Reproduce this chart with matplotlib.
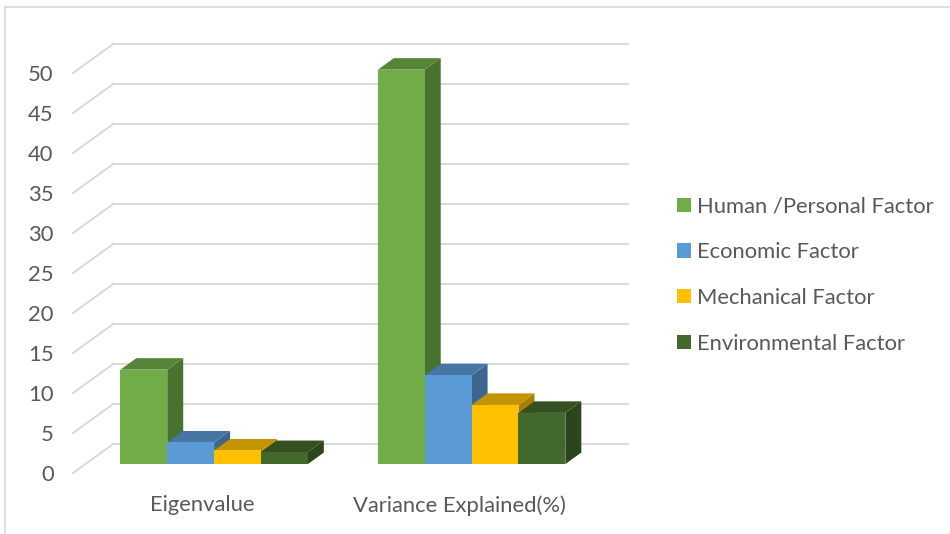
import numpy as np
import matplotlib
matplotlib.use("Agg")
import matplotlib.pyplot as plt
from matplotlib.patches import Polygon, Patch
from matplotlib.lines import Line2D

plt.rcParams.update({"font.family": ["Lato", "DejaVu Sans"]})

# ---- data ----
categories = ["Eigenvalue", "Variance Explained(%)"]
series = ["Human /Personal Factor", "Economic Factor", "Mechanical Factor", "Environmental Factor"]
human = [11.8, 49.3]
economic = [2.7, 11.1]
mechanical = [1.7, 7.4]
environmental = [1.5, 6.4]
yticks = list(range(0, 55, 5))

values = [human, economic, mechanical, environmental]
colors = ["#70AD47", "#5B9BD5", "#FFC000", "#43682B"]

TXT = "#595959"
GRID = "#D9D9D9"
FS = 15.8

# oblique "3D" look: depth offset in data units
DX, DY = 0.155, 3.6          # full floor depth
F0, F1 = 0.31, 0.71          # bar front / back planes (fraction of depth)
W = 0.182                    # bar width


def shade(c, k):
    r, g, b = matplotlib.colors.to_rgb(c)
    return (r * k, g * k, b * k)


fig = plt.figure(figsize=(9.5, 5.34), dpi=100)
ax = fig.add_axes([73 / 950, 61 / 534, 515 / 950, 400 / 534])
ax.set_xlim(-0.5, len(categories) - 0.5)
ax.set_ylim(0, 50)
for s in ax.spines.values():
    s.set_visible(False)

ax.set_yticks(yticks)
ax.tick_params(axis="y", length=0, pad=14, labelsize=FS, labelcolor=TXT)
ax.set_xticks(range(len(categories)))
ax.set_xticklabels(categories)
ax.tick_params(axis="x", length=0, pad=16, labelsize=FS, labelcolor=TXT)

# gridlines: back wall + left wall diagonals
x0, x1 = -0.5, len(categories) - 0.5
for v in yticks:
    ax.plot([x0 + DX, x1 + DX], [v + DY, v + DY], color=GRID, lw=1.4, clip_on=False, zorder=1)
    ax.plot([x0, x0 + DX], [v, v + DY], color=GRID, lw=1.4, clip_on=False, zorder=1)

# bars, left to right so nearer bars cover the side faces
z = 2
for ci in range(len(categories)):
    left = ci - 2 * W
    for si, vals in enumerate(values):
        h = vals[ci]
        c = colors[si]
        xl = left + si * W + F0 * DX
        xr = xl + W
        yb = F0 * DY
        ddx, ddy = (F1 - F0) * DX, (F1 - F0) * DY
        front = Polygon([(xl, yb), (xr, yb), (xr, yb + h), (xl, yb + h)],
                        closed=True, fc=c, ec="none", zorder=z, clip_on=False)
        side = Polygon([(xr, yb), (xr + ddx, yb + ddy), (xr + ddx, yb + h + ddy), (xr, yb + h)],
                       closed=True, fc=shade(c, 0.66), ec="none", zorder=z, clip_on=False)
        top = Polygon([(xl, yb + h), (xr, yb + h), (xr + ddx, yb + h + ddy), (xl + ddx, yb + h + ddy)],
                      closed=True, fc=shade(c, 0.77), ec="none", zorder=z, clip_on=False)
        ax.add_patch(side)
        ax.add_patch(top)
        ax.add_patch(front)
        z += 1

handles = [Patch(fc=c, ec="none") for c in colors]
fig.legend(handles, series, loc="center left", bbox_to_anchor=(677 / 950, 1 - 275 / 534),
           frameon=False, fontsize=FS, labelcolor=TXT, borderpad=0, borderaxespad=0,
           handlelength=0.64, handleheight=0.64, handletextpad=0.27, labelspacing=1.17)

# chart border (only left and top edges are visible)
fig.add_artist(Line2D([5 / 950, 5 / 950], [0, 1 - 7 / 534], color=GRID, lw=1.2))
fig.add_artist(Line2D([5 / 950, 1], [1 - 7 / 534, 1 - 7 / 534], color=GRID, lw=1.2))

fig.savefig("out.png", dpi=100, facecolor="white")
